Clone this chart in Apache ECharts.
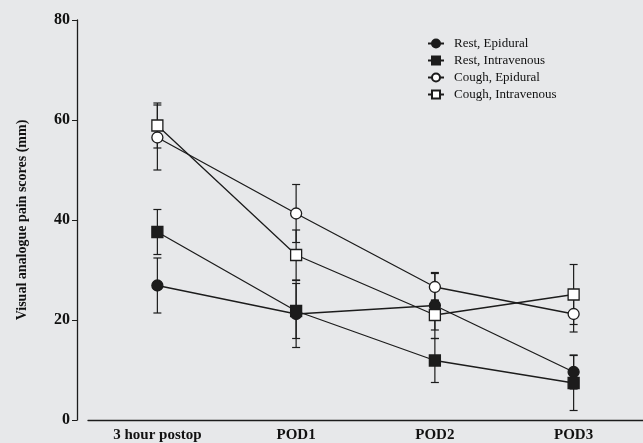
<!DOCTYPE html>
<html><head><meta charset="utf-8">
<script src="https://cdn.jsdelivr.net/npm/echarts@6/dist/echarts.min.js"></script>
<style>html,body{margin:0;padding:0;background:#e7e8ea;}#c{width:643px;height:443px;}</style>
</head><body><div id="c"></div>
<script>
const categories = ['3 hour postop', 'POD1', 'POD2', 'POD3'];
const yTicks = [0, 20, 40, 60, 80];
const seriesNames = ['Rest, Epidural', 'Rest, Intravenous', 'Cough, Epidural', 'Cough, Intravenous'];
const restEpidural = [26.9, 21.2, 22.9, 9.6];
const restEpiduralErr = [5.5, 6.7, 6.6, 3.4];
const restIntravenous = [37.6, 21.8, 11.9, 7.4];
const restIntravenousErr = [4.5, 5.5, 4.4, 5.5];
const coughEpidural = [56.5, 41.3, 26.6, 21.2];
const coughEpiduralErr = [6.5, 5.8, 2.7, 3.6];
const coughIntravenous = [58.9, 33.0, 21.0, 25.1];
const coughIntravenousErr = [4.5, 5.0, 3.0, 6.0];

const ink = '#1c1c1c';
const font = 'Liberation Serif';
const chart = echarts.init(document.getElementById('c'));

const groups = [
  {name: seriesNames[0], vals: restEpidural, errs: restEpiduralErr, symbol: 'circle', fill: ink},
  {name: seriesNames[1], vals: restIntravenous, errs: restIntravenousErr, symbol: 'rect', fill: ink},
  {name: seriesNames[2], vals: coughEpidural, errs: coughEpiduralErr, symbol: 'circle', fill: '#ffffff'},
  {name: seriesNames[3], vals: coughIntravenous, errs: coughIntravenousErr, symbol: 'rect', fill: '#ffffff'}
];

const series = [];
groups.forEach(g => {
  series.push({
    type: 'custom', name: g.name + ' err', silent: true, z: 1,
    data: g.vals.map((v, i) => [i, v, g.errs[i]]),
    renderItem: function (params, api) {
      const i = api.value(0), v = api.value(1), e = api.value(2);
      const top = api.coord([i, v + e]);
      const bot = api.coord([i, v - e]);
      const cap = 4;
      const st = {stroke: ink, lineWidth: 1.2};
      return {type: 'group', children: [
        {type: 'line', shape: {x1: top[0], y1: top[1], x2: bot[0], y2: bot[1]}, style: st},
        {type: 'line', shape: {x1: top[0] - cap, y1: top[1], x2: top[0] + cap, y2: top[1]}, style: st},
        {type: 'line', shape: {x1: bot[0] - cap, y1: bot[1], x2: bot[0] + cap, y2: bot[1]}, style: st}
      ]};
    }
  });
  series.push({
    type: 'line', name: g.name, data: g.vals, z: 3,
    symbol: g.symbol, symbolSize: 11,
    lineStyle: {color: ink, width: 1.3},
    itemStyle: {color: g.fill, borderColor: ink, borderWidth: 1.3},
    emphasis: {disabled: true}
  });
});

chart.setOption({
  backgroundColor: '#e7e8ea',
  animation: false,
  grid: {left: 88, right: 0, top: 20, bottom: 21, containLabel: false},
  legend: {
    orient: 'vertical', left: 422, top: 32, itemGap: 4,
    itemWidth: 16, itemHeight: 10,
    data: seriesNames,
    textStyle: {fontFamily: font, fontSize: 13, color: '#111', padding: [0, 0, 0, 5]}
  },
  xAxis: {
    type: 'category', data: categories, boundaryGap: true, offset: 2,
    axisLine: {lineStyle: {color: ink, width: 1.3}},
    axisTick: {alignWithLabel: true, length: 3, lineStyle: {color: ink}},
    axisLabel: {fontFamily: font, fontWeight: 'bold', fontSize: 15, color: '#111', margin: 6}
  },
  yAxis: {
    type: 'value', min: yTicks[0], max: yTicks[yTicks.length - 1], interval: 20,
    offset: 11,
    name: 'Visual analogue pain scores (mm)', nameLocation: 'middle', nameGap: 48,
    nameTextStyle: {fontFamily: font, fontWeight: 'bold', fontSize: 14, color: '#111'},
    splitLine: {show: false},
    axisLine: {show: true, lineStyle: {color: ink, width: 1.3}},
    axisTick: {show: true, length: 5, lineStyle: {color: ink}},
    axisLabel: {fontFamily: font, fontWeight: 'bold', fontSize: 16, color: '#111', margin: 7}
  },
  series: series
});
</script></body></html>
